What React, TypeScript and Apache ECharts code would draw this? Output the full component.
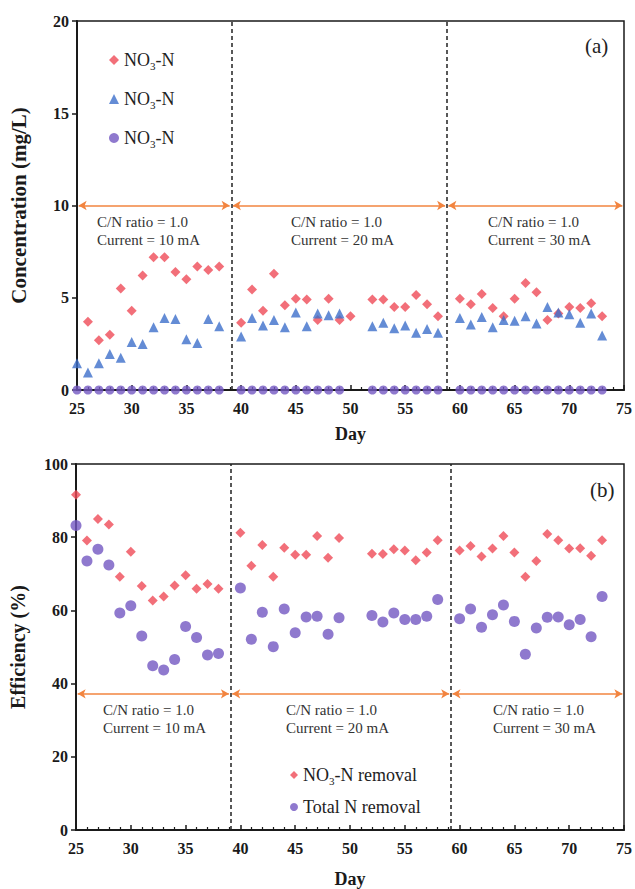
import React, { useEffect, useRef } from 'react';
import * as echarts from 'echarts';

// ---------- Panel (a): concentration (mg/L) ----------
const nitrateDaysA = [26, 27, 28, 29, 30, 31, 32, 33, 34, 35, 36, 37, 38, 40, 41, 42, 43, 44, 45, 46, 47, 48, 49, 50, 52, 53, 54, 55, 56, 57, 58, 60, 61, 62, 63, 64, 65, 66, 67, 68, 69, 70, 71, 72, 73];
const nitrateA = [3.7, 2.7, 3.0, 5.5, 4.3, 6.2, 7.2, 7.2, 6.4, 6.0, 6.7, 6.5, 6.7, 3.65, 5.45, 4.3, 6.3, 4.6, 4.95, 4.9, 3.8, 4.95, 3.8, 4.0, 4.9, 4.9, 4.5, 4.5, 5.15, 4.65, 4.0, 4.95, 4.65, 5.2, 4.45, 4.0, 4.95, 5.8, 5.3, 3.8, 4.15, 4.5, 4.45, 4.7, 4.0];

const secondDaysA = [25, 26, 27, 28, 29, 30, 31, 32, 33, 34, 35, 36, 37, 38, 40, 41, 42, 43, 44, 45, 46, 47, 48, 49, 52, 53, 54, 55, 56, 57, 58, 60, 61, 62, 63, 64, 65, 66, 67, 68, 69, 70, 71, 72, 73];
const secondA = [1.45, 0.95, 1.45, 1.95, 1.75, 2.6, 2.5, 3.4, 3.9, 3.85, 2.75, 2.55, 3.85, 3.45, 2.9, 3.9, 3.5, 3.8, 3.4, 4.2, 3.45, 4.15, 4.05, 4.15, 3.45, 3.65, 3.35, 3.5, 3.1, 3.3, 3.1, 3.9, 3.55, 3.95, 3.4, 3.8, 3.75, 4.0, 3.6, 4.5, 4.2, 4.1, 3.65, 4.15, 2.95];

const thirdDaysA = [25, 26, 27, 28, 29, 30, 31, 32, 33, 34, 35, 36, 37, 38, 40, 41, 42, 43, 44, 45, 46, 47, 48, 49, 52, 53, 54, 55, 56, 57, 58, 60, 61, 62, 63, 64, 65, 66, 67, 68, 69, 70, 71, 72, 73];
const thirdA = [0, 0, 0, 0, 0, 0, 0, 0, 0, 0, 0, 0, 0, 0, 0, 0, 0, 0, 0, 0, 0, 0, 0, 0, 0, 0, 0, 0, 0, 0, 0, 0, 0, 0, 0, 0, 0, 0, 0, 0, 0, 0, 0, 0, 0];

// ---------- Panel (b): efficiency (%) ----------
const daysB = [25, 26, 27, 28, 29, 30, 31, 32, 33, 34, 35, 36, 37, 38, 40, 41, 42, 43, 44, 45, 46, 47, 48, 49, 52, 53, 54, 55, 56, 57, 58, 60, 61, 62, 63, 64, 65, 66, 67, 68, 69, 70, 71, 72, 73];
const nitrateRemoval = [91.6, 79.1, 85.0, 83.5, 69.2, 76.0, 66.7, 62.7, 63.8, 66.8, 69.6, 65.9, 67.2, 65.9, 81.2, 72.2, 77.9, 69.2, 77.1, 75.2, 75.2, 80.3, 74.4, 79.8, 75.5, 75.4, 76.7, 76.4, 73.7, 75.8, 79.2, 76.4, 77.6, 74.7, 76.9, 80.3, 75.8, 69.2, 73.5, 80.9, 79.2, 76.9, 77.0, 74.9, 79.2];
const totalNRemoval = [83.2, 73.5, 76.7, 72.4, 59.3, 61.3, 53.0, 44.9, 43.7, 46.6, 55.6, 52.6, 47.8, 48.2, 66.1, 52.1, 59.5, 50.1, 60.4, 53.9, 58.2, 58.4, 53.5, 58.0, 58.6, 56.8, 59.3, 57.5, 57.5, 58.4, 63.0, 57.7, 60.4, 55.4, 58.8, 61.5, 57.0, 48.0, 55.2, 58.1, 58.2, 56.1, 57.5, 52.8, 63.8];

// ---------- Phases ----------
const phaseBoundsA = [39.1, 58.8];
const phaseBoundsB = [39.1, 59.2];
const phaseLabels = ['C/N ratio = 1.0\nCurrent = 10 mA', 'C/N ratio = 1.0\nCurrent = 20 mA', 'C/N ratio = 1.0\nCurrent = 30 mA'];
const arrowLevelA = 10;
const arrowLevelB = 37.2;

const SERIF = '"Liberation Serif", "Times New Roman", serif';
const RED = '#ef4b57';
const BLUE = '#3d6fca';
const PURPLE = '#7357c2';
const ORANGE = '#f2843f';
const INK = '#1a1a1a';

const zip = (xs: number[], ys: number[]) => xs.map((x, i) => [x, ys[i]]);

const legendNames: Record<string, string> = {
  'NO3-N ◆': '{n|NO}{sub|3}{n|-N}',
  'NO3-N ▲': '{n|NO}{sub|3}{n|-N}',
  'NO3-N ●': '{n|NO}{sub|3}{n|-N}',
  'NO3-N removal': '{n|NO}{sub|3}{n|-N removal}',
  'Total N removal': '{n|Total N removal}',
};

function xAxisCfg(gridIndex: number, nameGap: number) {
  return {
    type: 'value',
    gridIndex,
    min: 25,
    max: 75,
    interval: 5,
    name: 'Day',
    nameLocation: 'middle',
    nameGap,
    nameTextStyle: { fontFamily: SERIF, fontWeight: 'bold', fontSize: 18, color: INK },
    axisLine: { show: true, lineStyle: { color: INK, width: 2 } },
    axisTick: { show: true, inside: true, length: 5, lineStyle: { color: INK, width: 1.5 } },
    minorTick: { show: true, splitNumber: 5, length: 3, lineStyle: { color: INK, width: 1.2 } },
    splitLine: { show: false },
    axisLabel: { fontFamily: SERIF, fontWeight: 'bold', fontSize: 16, color: INK, margin: 10 },
  };
}

function yAxisCfg(gridIndex: number, max: number, interval: number, name: string, fontSize: number) {
  return {
    type: 'value',
    gridIndex,
    min: 0,
    max,
    interval,
    name,
    nameLocation: 'middle',
    nameGap: 48,
    nameTextStyle: { fontFamily: SERIF, fontWeight: 'bold', fontSize, color: INK },
    axisLine: { show: true, lineStyle: { color: INK, width: 2 } },
    axisTick: { show: true, inside: false, length: 5, lineStyle: { color: INK, width: 1.5 } },
    splitLine: { show: false },
    axisLabel: { fontFamily: SERIF, fontWeight: 'bold', fontSize: 16, color: INK, margin: 8 },
  };
}

function dashedLines(bounds: number[]) {
  return {
    silent: true,
    symbol: ['none', 'none'],
    label: { show: false },
    lineStyle: { color: '#222', type: [4, 3], width: 1.5 },
    data: bounds.map((b) => ({ xAxis: b })),
  };
}

function arrowLines(bounds: number[], level: number) {
  const edges = [25, ...bounds, 75];
  const data: any[] = [];
  for (let i = 0; i < edges.length - 1; i++) {
    data.push([{ coord: [edges[i] + 0.15, level] }, { coord: [edges[i + 1] - 0.15, level] }]);
  }
  return {
    silent: true,
    symbol: ['arrow', 'arrow'],
    symbolSize: [7, 8],
    label: { show: false },
    lineStyle: { color: ORANGE, type: 'solid', width: 1.6 },
    data,
  };
}

const legendText = {
  fontFamily: SERIF,
  color: '#222',
  rich: {
    n: { fontFamily: SERIF, fontSize: 18, color: '#222', lineHeight: 22, verticalAlign: 'middle' },
    sub: { fontFamily: SERIF, fontSize: 11, color: '#222', lineHeight: 12, verticalAlign: 'bottom' },
  },
};

function buildOption() {
  const phaseText = (xs: number[], y1: number) =>
    phaseLabels.map((t, i) => ({
      type: 'text',
      left: xs[i],
      top: y1,
      style: { text: t, font: `15px ${SERIF}`, fill: '#333', lineHeight: 18 },
    }));

  return {
    animation: false,
    backgroundColor: '#ffffff',
    grid: [
      { left: 72, top: 21, width: 554, height: 369, show: true, borderColor: INK, borderWidth: 1.5, backgroundColor: 'transparent' },
      { left: 72, top: 464, width: 555, height: 369, show: true, borderColor: INK, borderWidth: 1.5, backgroundColor: 'transparent' },
    ],
    xAxis: [xAxisCfg(0, 35), xAxisCfg(1, 40)],
    yAxis: [yAxisCfg(0, 20, 5, 'Concentration (mg/L)', 21), yAxisCfg(1, 100, 20, 'Efficiency (%)', 20)],
    legend: [
      {
        orient: 'vertical',
        left: 104,
        top: 46,
        itemGap: 19,
        itemWidth: 10,
        itemHeight: 10,
        data: [
          { name: 'NO3-N ◆', icon: 'diamond' },
          { name: 'NO3-N ▲', icon: 'triangle' },
          { name: 'NO3-N ●', icon: 'circle' },
        ],
        formatter: (n: string) => legendNames[n] || n,
        textStyle: legendText,
        selectedMode: false,
      },
      {
        orient: 'vertical',
        left: 285,
        top: 761,
        itemGap: 12,
        itemWidth: 8,
        itemHeight: 8,
        data: [
          { name: 'NO3-N removal', icon: 'diamond' },
          { name: 'Total N removal', icon: 'circle' },
        ],
        formatter: (n: string) => legendNames[n] || n,
        textStyle: legendText,
        selectedMode: false,
      },
    ],
    series: [
      {
        name: 'NO3-N ◆',
        type: 'scatter',
        xAxisIndex: 0,
        yAxisIndex: 0,
        symbol: 'diamond',
        symbolSize: 10,
        itemStyle: { color: RED },
        data: zip(nitrateDaysA, nitrateA),
        markLine: arrowLines(phaseBoundsA, arrowLevelA),
        z: 3,
      },
      {
        name: 'NO3-N ▲',
        type: 'scatter',
        xAxisIndex: 0,
        yAxisIndex: 0,
        symbol: 'triangle',
        symbolSize: 10,
        itemStyle: { color: BLUE },
        data: zip(secondDaysA, secondA),
        markLine: dashedLines(phaseBoundsA),
        z: 3,
      },
      {
        name: 'NO3-N ●',
        type: 'scatter',
        xAxisIndex: 0,
        yAxisIndex: 0,
        symbol: 'circle',
        symbolSize: 9,
        itemStyle: { color: PURPLE },
        data: zip(thirdDaysA, thirdA),
        z: 4,
      },
      {
        name: 'NO3-N removal',
        type: 'scatter',
        xAxisIndex: 1,
        yAxisIndex: 1,
        symbol: 'diamond',
        symbolSize: 10,
        itemStyle: { color: RED },
        data: zip(daysB, nitrateRemoval),
        markLine: arrowLines(phaseBoundsB, arrowLevelB),
        z: 3,
      },
      {
        name: 'Total N removal',
        type: 'scatter',
        xAxisIndex: 1,
        yAxisIndex: 1,
        symbol: 'circle',
        symbolSize: 11,
        itemStyle: { color: PURPLE },
        data: zip(daysB, totalNRemoval),
        markLine: dashedLines(phaseBoundsB),
        z: 3,
      },
    ],
    graphic: [
      ...phaseText([97, 291, 488], 213),
      ...phaseText([103, 286, 493], 701),
      { type: 'text', left: 585, top: 35, style: { text: '(a)', font: `21px ${SERIF}`, fill: '#222' } },
      { type: 'text', left: 590, top: 479, style: { text: '(b)', font: `21px ${SERIF}`, fill: '#222' } },
    ],
  };
}

export default function App() {
  const ref = useRef<HTMLDivElement>(null);
  useEffect(() => {
    if (!ref.current) return;
    const chart = echarts.init(ref.current, null, { renderer: 'svg' });
    chart.setOption(buildOption() as any);
    return () => chart.dispose();
  }, []);
  return (
    <div
      ref={ref}
      style={{ width: 635, height: 889, position: 'absolute', left: 0, top: 0, background: '#fff' }}
    />
  );
}
